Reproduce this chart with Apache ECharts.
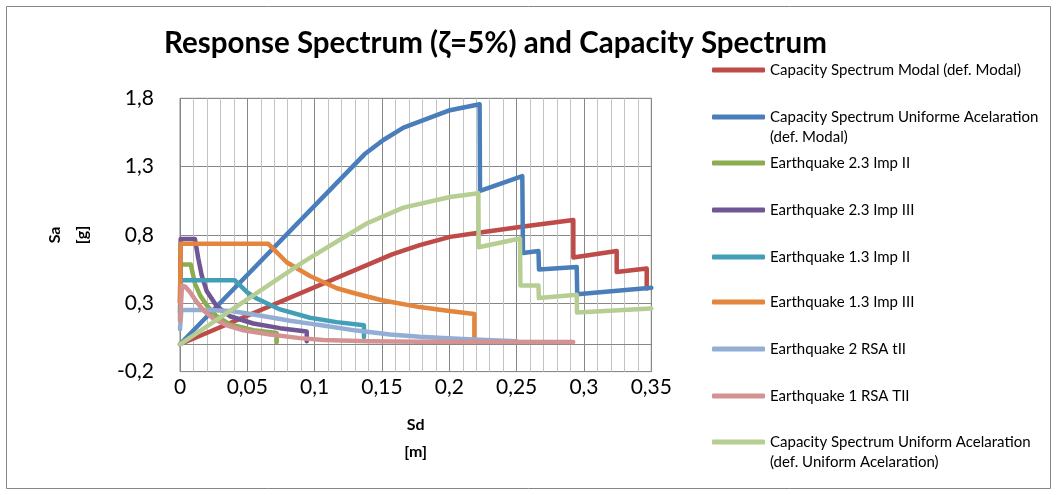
<!DOCTYPE html>
<html><head><meta charset="utf-8">
<script src="https://cdn.jsdelivr.net/npm/echarts@6/dist/echarts.min.js"></script>
<style>html,body{margin:0;padding:0;background:#fff}#c{width:1057px;height:495px}</style>
</head><body><div id="c"></div>
<script>
const seriesNames = [
  'Capacity Spectrum Modal (def. Modal)',
  'Capacity Spectrum Uniforme Acelaration (def. Modal)',
  'Earthquake 2.3 Imp II',
  'Earthquake 2.3 Imp III',
  'Earthquake 1.3 Imp II',
  'Earthquake 1.3 Imp III',
  'Earthquake 2 RSA tII',
  'Earthquake 1 RSA TII',
  'Capacity Spectrum Uniform Acelaration (def. Uniform Acelaration)'
];
// legend first lines and wrapped second lines
const legendLabels = [
  'Capacity Spectrum Modal (def. Modal)',
  'Capacity Spectrum Uniforme Acelaration',
  'Earthquake 2.3 Imp II',
  'Earthquake 2.3 Imp III',
  'Earthquake 1.3 Imp II',
  'Earthquake 1.3 Imp III',
  'Earthquake 2 RSA tII',
  'Earthquake 1 RSA TII',
  'Capacity Spectrum Uniform Acelaration'
];
const legendSecondLines = ['', '(def. Modal)', '', '', '', '', '', '', '(def. Uniform Acelaration)'];
const colors = ['#BE4B48','#4A7EBB','#8CAC50','#715696','#439FB7','#E4853D','#93AED4','#D49392','#B7CE93'];

// [Sd (m), Sa (g)]
const capModal = [[0,0],[0.158,0.66],[0.178,0.725],[0.2005,0.786],[0.2203,0.815],[0.255,0.862],[0.2921,0.91],[0.2921,0.635],[0.3243,0.683],[0.3243,0.529],[0.3466,0.554],[0.3466,0.408]];
const capUnifModal = [[0,0],[0.137,1.39],[0.151,1.495],[0.166,1.585],[0.2005,1.713],[0.2225,1.757],[0.2228,1.122],[0.2542,1.23],[0.2547,0.668],[0.2662,0.683],[0.2666,0.547],[0.2946,0.566],[0.295,0.366],[0.35,0.413]];
const eq23ImpII = [[0,0.23],[0.0005,0.583],[0.008,0.583],[0.0111,0.444],[0.0149,0.359],[0.0198,0.285],[0.0272,0.205],[0.0371,0.145],[0.0544,0.103],[0.0718,0.083],[0.0718,0.017]];
const eq23ImpIII = [[0,0.31],[0.0005,0.77],[0.0111,0.77],[0.0136,0.627],[0.0161,0.505],[0.0198,0.39],[0.0272,0.28],[0.0371,0.205],[0.0544,0.152],[0.0743,0.118],[0.0941,0.093],[0.0941,0.022]];
const eq13ImpII = [[0,0.19],[0.0005,0.468],[0.0408,0.468],[0.05,0.38],[0.057,0.335],[0.0743,0.255],[0.0965,0.194],[0.1164,0.162],[0.1366,0.14],[0.1366,0.053]];
const eq13ImpIII = [[0,0.3],[0.0005,0.735],[0.0656,0.735],[0.0792,0.6],[0.0965,0.5],[0.1164,0.41],[0.131,0.37],[0.15,0.322],[0.178,0.272],[0.2,0.243],[0.2186,0.222],[0.2186,0.05]];
const eq2RSA = [[0,0.11],[0.001,0.25],[0.02,0.25],[0.038,0.243],[0.05,0.225],[0.0668,0.198],[0.0817,0.172],[0.0965,0.151],[0.1064,0.137],[0.131,0.1],[0.156,0.072],[0.178,0.055],[0.21,0.038],[0.25,0.022]];
const eq1RSA = [[0,0.17],[0.0015,0.43],[0.004,0.42],[0.0074,0.383],[0.0124,0.31],[0.0173,0.249],[0.0247,0.188],[0.0347,0.139],[0.047,0.102],[0.0668,0.071],[0.0891,0.045],[0.1064,0.032],[0.14,0.022],[0.178,0.018],[0.292,0.017]];
const capUnifUnif = [[0,0],[0.0916,0.603],[0.1386,0.884],[0.1659,1.0],[0.2005,1.078],[0.2216,1.105],[0.2218,0.71],[0.2525,0.774],[0.2528,0.43],[0.2662,0.43],[0.2665,0.338],[0.2946,0.362],[0.2948,0.233],[0.35,0.261]];

const xTicks = [0,0.05,0.1,0.15,0.2,0.25,0.3,0.35];
const yTicks = [-0.2,0.3,0.8,1.3,1.8];
const allData = [capModal,capUnifModal,eq23ImpII,eq23ImpIII,eq13ImpII,eq13ImpIII,eq2RSA,eq1RSA,capUnifUnif];
const legendCenters = [70,117,163,210,257,302,349,396,442];

const FONT = 'Lato, "Open Sans", sans-serif';
const fmt = v => String(Math.round(v*100)/100).replace('.', ',');

const series = seriesNames.map((n,i) => ({
  name: n, type: 'line', data: allData[i], symbol: 'none', showSymbol: false, smooth: false,
  lineStyle: {width: 4.5, color: colors[i], cap: 'round', join: 'round'},
  itemStyle: {color: colors[i]},
  z: 3 + i, animation: false,
  markLine: i === 0 ? {silent: true, symbol: ['none','none'], label: {show: false},
    lineStyle: {color: '#868686', width: 1, type: 'solid'}, data: [{yAxis: 0}], animation: false} : undefined
}));

const legends = seriesNames.map((n,i) => ({
  data: [{name: n, icon: 'roundRect'}], left: 712, top: legendCenters[i] - 9, orient: 'vertical', padding: 0,
  itemWidth: 53, itemHeight: 5, itemGap: 0, selectedMode: false,
  formatter: () => legendLabels[i],
  itemStyle: {color: colors[i], borderWidth: 0},
  textStyle: {fontFamily: FONT, fontSize: 15, color: '#000', lineHeight: 18}
}));

const secondLineTexts = legendSecondLines.map((t,i) => t ? ({
  type: 'text', left: 770, top: legendCenters[i] + 13, silent: true,
  style: {text: t, font: '15px ' + FONT, fill: '#000'}
}) : null).filter(Boolean);

const chart = echarts.init(document.getElementById('c'), null, {renderer: 'canvas'});
chart.setOption({
  animation: false,
  backgroundColor: '#fff',
  title: {text: 'Response Spectrum (ζ=5%) and Capacity Spectrum', left: 164, top: 28,
    padding: 0,
    textStyle: {fontFamily: FONT, fontSize: 29.5, fontWeight: 'bold', color: '#000'}},
  legend: legends,
  graphic: [{type: 'rect', shape: {x: 6.5, y: 6.5, width: 1044, height: 482},
    style: {fill: 'none', stroke: '#868686', lineWidth: 1}, silent: true, z: -10}].concat(secondLineTexts),
  grid: {left: 180, top: 98.3, width: 471.3, height: 273.3, show: true, borderColor: '#868686', borderWidth: 1, containLabel: false},
  xAxis: {type: 'value', min: xTicks[0], max: xTicks[xTicks.length-1], interval: 0.05,
    axisLine: {show: false}, axisTick: {show: false},
    axisLabel: {formatter: fmt, fontFamily: FONT, fontSize: 21, color: '#000', margin: 5},
    splitLine: {show: true, lineStyle: {color: '#878787', width: 1}},
    minorTick: {show: false, splitNumber: 5},
    minorSplitLine: {show: true, lineStyle: {color: '#C3C3C3', width: 1}},
    name: 'Sd\n[m]', nameLocation: 'middle', nameGap: 40,
    nameTextStyle: {fontFamily: FONT, fontSize: 16, fontWeight: 'bold', color: '#000', lineHeight: 27}},
  yAxis: {type: 'value', min: yTicks[0], max: yTicks[yTicks.length-1],
    axisLine: {show: false},
    axisTick: {show: false, customValues: yTicks},
    axisLabel: {customValues: yTicks, formatter: fmt, fontFamily: FONT, fontSize: 21, color: '#000', margin: 26},
    splitLine: {show: true, lineStyle: {color: '#878787', width: 1}},
    name: 'Sa\n[g]', nameLocation: 'middle', nameGap: 85, nameRotate: 90,
    nameTextStyle: {fontFamily: FONT, fontSize: 16, fontWeight: 'bold', color: '#000', lineHeight: 27}},
  series: series
});
</script></body></html>
